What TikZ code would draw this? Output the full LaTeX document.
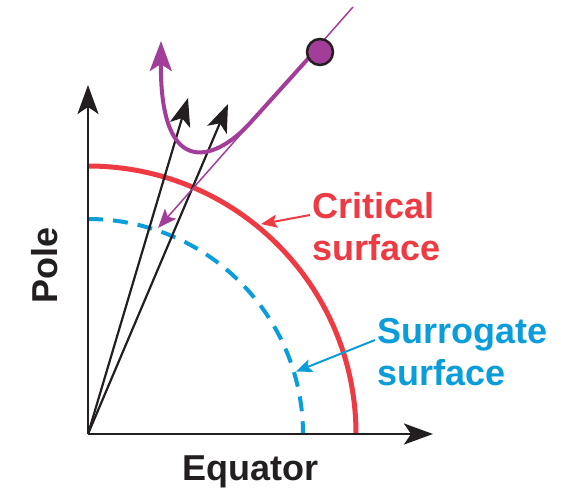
\documentclass[tikz,border=0pt]{standalone}
\usepackage{fontspec}
\setmainfont{Liberation Sans}
\usetikzlibrary{arrows.meta}
\definecolor{critred}{RGB}{238,58,67}
\definecolor{surrblue}{RGB}{11,157,217}
\definecolor{trajpurple}{RGB}{162,62,154}
\definecolor{inkblack}{RGB}{35,31,32}
\begin{document}
\begin{tikzpicture}[x=1pt,y=1pt,
  axis/.style={draw=inkblack, line width=2.5pt, -{Stealth[length=29pt,width=21pt,inset=7pt]}},
  ray/.style={draw=inkblack, line width=2.2pt, -{Stealth[length=28pt,width=21pt,inset=7pt]}},
  biglabel/.style={font=\bfseries\fontsize{36}{42}\selectfont, inner sep=0pt},
  pointer/.style={line width=2pt, -{Stealth[length=16pt,width=13pt,inset=3pt]}}]
  \useasboundingbox (-88,-57) rectangle (473,434);
  \coordinate (O) at (0,0);
  \coordinate (poletip) at (0,349);
  \coordinate (eqtip) at (345,0);
  \coordinate (rayA) at (100,336);
  \coordinate (rayB) at (140,330);
  \coordinate (raytop) at (265,427);
  \coordinate (raytip) at (70,206);
  \coordinate (launch) at (227,383);
  \coordinate (bend) at (163,312);
  \coordinate (bounce) at (73,393);
  \coordinate (critpt) at (50.5:272);
  \coordinate (surrpt) at (16.7:217);
  \draw[surrblue, line width=4pt, dash pattern=on 15pt off 10pt] (0,215) arc[start angle=90, end angle=0, radius=215];
  \draw[critred, line width=5pt] (0,268) arc[start angle=90, end angle=0, radius=268];
  \draw[axis] (O) -- (poletip);
  \draw[axis] (O) -- (eqtip);
  \draw[ray] (O) -- (rayA);
  \draw[ray] (O) -- (rayB);
  \draw[trajpurple, line width=1.5pt, -{Stealth[length=19pt,width=15pt,inset=4pt]}] (raytop) -- (raytip);
  \draw[trajpurple, line width=4pt, -{Stealth[length=30pt,width=22pt,inset=7pt]}] (launch) -- (bend) .. controls (130,275) and (72,250) .. (bounce);
  \node[circle, fill=trajpurple, draw=inkblack, line width=2.5pt, minimum size=26pt, inner sep=0pt] (ball) at (232,382) {};
  \node[biglabel, text=critred, align=left, anchor=west] (crit) at (224,207) {Critical\\surface};
  \node[biglabel, text=surrblue, align=left, anchor=west] (surr) at (289,82) {Surrogate\\surface};
  \node[biglabel, text=inkblack, rotate=90] (pole) at (-43,169) {Pole};
  \node[biglabel, text=inkblack, anchor=base] (equator) at (162,-46) {Equator};
  \draw[pointer, critred] ([xshift=-2pt,yshift=12pt]crit.west) -- (critpt);
  \draw[pointer, surrblue] ([xshift=-2pt,yshift=12pt]surr.west) -- (surrpt);
\end{tikzpicture}
\end{document}
